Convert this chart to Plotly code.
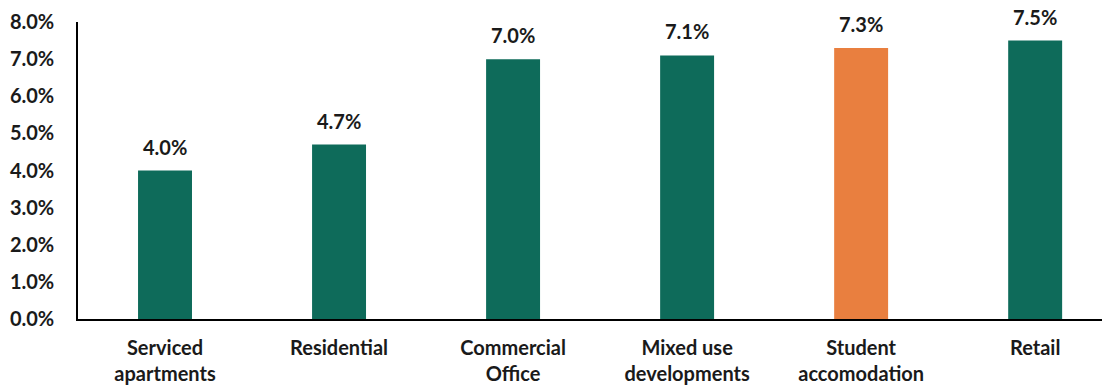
import plotly.graph_objects as go

categories = ["Serviced<br>apartments", "Residential", "Commercial<br>Office",
              "Mixed use<br>developments", "Student<br>accomodation", "Retail"]
values = [4.0, 4.7, 7.0, 7.1, 7.3, 7.5]
bar_colors = ["#0E6B5A", "#0E6B5A", "#0E6B5A", "#0E6B5A", "#E97F3F", "#0E6B5A"]
y_ticks = [0, 1, 2, 3, 4, 5, 6, 7, 8]
y_tick_labels = [f"{v:.1f}%" for v in y_ticks]

FONT = "Lato"
TXT = "#1a1a1a"

fig = go.Figure(go.Bar(
    x=list(range(len(categories))), y=values,
    marker=dict(color=bar_colors, line=dict(width=0)),
    width=0.31,
))

for i, v in enumerate(values):
    fig.add_annotation(x=i, y=v, text=f"<b>{v:.1f}%</b>", showarrow=False,
                       yshift=24, font=dict(family=FONT, size=20, color=TXT))

fig.update_layout(
    width=1102, height=384,
    margin=dict(l=70, r=0, t=14, b=73),
    plot_bgcolor="white", paper_bgcolor="white",
    showlegend=False,
    font=dict(family=FONT, color=TXT),
)
fig.update_xaxes(
    tickmode="array", tickvals=list(range(len(categories))),
    ticktext=[f"<b>{c.replace('<br>', '</b><br><b>')}</b>" for c in categories],
    range=[-0.5, 5.43], showline=True, linecolor="#000", linewidth=1.5,
    showgrid=False, zeroline=False, ticks="", ticklabelstandoff=10,
    tickfont=dict(family=FONT, size=20, color=TXT), automargin=False,
)
fig.update_yaxes(
    range=[0, 8], tickmode="array", tickvals=y_ticks,
    ticktext=[f"<b>{t}</b>" for t in y_tick_labels],
    showline=True, linecolor="#000", linewidth=1.5,
    showgrid=False, zeroline=False, ticks="", ticklabelstandoff=18,
    tickfont=dict(family=FONT, size=20, color=TXT), automargin=False,
)
fig.write_html("out.html")
